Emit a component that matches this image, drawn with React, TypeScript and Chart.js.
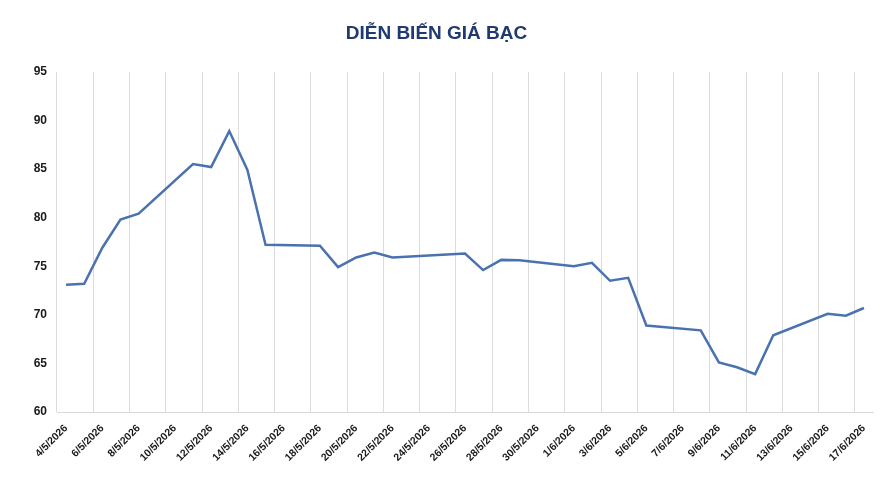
import React, { useEffect, useRef } from "react";
import { Chart, registerables } from "chart.js";

Chart.register(...registerables);

const TITLE = "DIỄN BIẾN GIÁ BẠC";

// Every calendar day on the axis (category axis)
const allDays: string[] = [
  "4/5/2026", "5/5/2026", "6/5/2026", "7/5/2026", "8/5/2026", "9/5/2026", "10/5/2026",
  "11/5/2026", "12/5/2026", "13/5/2026", "14/5/2026", "15/5/2026", "16/5/2026", "17/5/2026",
  "18/5/2026", "19/5/2026", "20/5/2026", "21/5/2026", "22/5/2026", "23/5/2026", "24/5/2026",
  "25/5/2026", "26/5/2026", "27/5/2026", "28/5/2026", "29/5/2026", "30/5/2026", "31/5/2026",
  "1/6/2026", "2/6/2026", "3/6/2026", "4/6/2026", "5/6/2026", "6/6/2026", "7/6/2026",
  "8/6/2026", "9/6/2026", "10/6/2026", "11/6/2026", "12/6/2026", "13/6/2026", "14/6/2026",
  "15/6/2026", "16/6/2026", "17/6/2026",
];

// Trading days with a price
const tradeDates: string[] = [
  "4/5/2026", "5/5/2026", "6/5/2026", "7/5/2026", "8/5/2026",
  "11/5/2026", "12/5/2026", "13/5/2026", "14/5/2026", "15/5/2026",
  "18/5/2026", "19/5/2026", "20/5/2026", "21/5/2026", "22/5/2026",
  "26/5/2026", "27/5/2026", "28/5/2026", "29/5/2026",
  "1/6/2026", "2/6/2026", "3/6/2026", "4/6/2026", "5/6/2026",
  "8/6/2026", "9/6/2026", "10/6/2026", "11/6/2026", "12/6/2026",
  "15/6/2026", "16/6/2026", "17/6/2026",
];

const prices: number[] = [
  73.1, 73.2, 76.9, 79.8, 80.4,
  85.5, 85.2, 88.9, 84.9, 77.2,
  77.1, 74.9, 75.9, 76.4, 75.9,
  76.3, 74.6, 75.65, 75.6,
  75.0, 75.35, 73.5, 73.8, 68.9,
  68.4, 65.1, 64.6, 63.9, 67.9,
  70.1, 69.9, 70.7,
];

const Y_MIN = 60;
const Y_MAX = 95;
const Y_STEP = 5;

export default function App() {
  const canvasRef = useRef<HTMLCanvasElement | null>(null);

  useEffect(() => {
    document.body.style.margin = "0";
    const canvas = canvasRef.current;
    if (!canvas) return;

    const series = allDays.map((d) => {
      const i = tradeDates.indexOf(d);
      return i >= 0 ? prices[i] : null;
    });

    const chart = new Chart(canvas, {
      type: "line",
      data: {
        labels: allDays,
        datasets: [
          {
            data: series,
            borderColor: "#4a72ae",
            borderWidth: 2.5,
            pointRadius: 0,
            pointHoverRadius: 0,
            tension: 0,
            spanGaps: true,
            fill: false,
          },
        ],
      },
      options: {
        animation: false,
        responsive: false,
        maintainAspectRatio: false,
        devicePixelRatio: 1,
        layout: { padding: { top: 0, right: 10, bottom: 0, left: 0 } },
        plugins: {
          legend: { display: false },
          tooltip: { enabled: false },
          title: {
            display: true,
            text: TITLE,
            color: "#1f3a70",
            font: { family: "'Liberation Sans', Arial, sans-serif", size: 19, weight: "bold" },
            padding: { top: 22, bottom: 27 },
          },
        },
        scales: {
          x: {
            type: "category",
            offset: true,
            grid: {
              display: true,
              offset: true,
              drawTicks: false,
              lineWidth: 1,
              color: (ctx: any) =>
                typeof ctx.index === "number" && ctx.index % 2 === 0 ? "#dcdcdc" : "rgba(0,0,0,0)",
            },
            border: { display: true, color: "#d9d9d9", width: 1 },
            ticks: {
              autoSkip: false,
              maxRotation: 45,
              minRotation: 45,
              padding: 10,
              color: "#1a1a1a",
              font: { family: "'Liberation Sans', Arial, sans-serif", size: 10.5, weight: "bold" },
              callback: function (_v: any, index: number) {
                return index % 2 === 0 ? allDays[index] : "";
              },
            },
            afterFit: (scale: any) => {
              scale.height = 85;
            },
          },
          y: {
            min: Y_MIN,
            max: Y_MAX,
            grid: { display: false, drawTicks: false },
            border: { display: false },
            ticks: {
              stepSize: Y_STEP,
              padding: 10,
              color: "#1a1a1a",
              font: { family: "'Liberation Sans', Arial, sans-serif", size: 12, weight: "bold" },
            },
            afterFit: (scale: any) => {
              scale.width = 57;
            },
          },
        },
      },
    });

    return () => chart.destroy();
  }, []);

  return (
    <div style={{ width: 883, height: 497, background: "#ffffff" }}>
      <canvas ref={canvasRef} width={883} height={497} style={{ display: "block" }} />
    </div>
  );
}
